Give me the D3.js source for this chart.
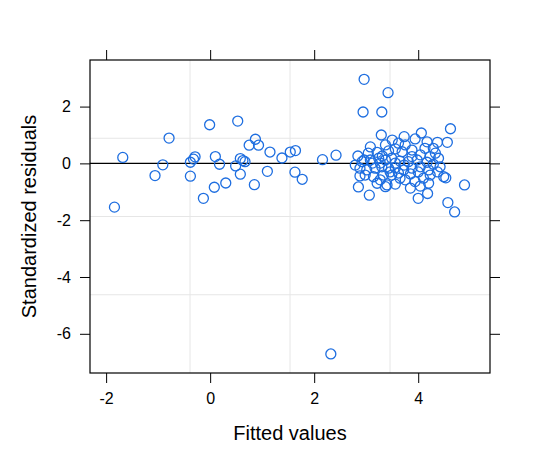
<!DOCTYPE HTML>
<html>
  <head>
    <meta charset="utf-8">
    <style>
	body { margin: 0; background: #ffffff; }
	.axis text { font-family: "Liberation Sans", Arial, sans-serif; font-size: 16px; fill: #000; }
	.axis line { stroke: #000; stroke-width: 1; }
	.axis path { display: none; }
	.axis-title { font-family: "Liberation Sans", Arial, sans-serif; font-size: 20px; fill: #000; }
	</style>
  </head>
  <body>

	<script type="text/javascript" src="https://cdn.jsdelivr.net/npm/d3@7/dist/d3.min.js"></script>

    <script>

		// *** DATA ***

		// fitted values (x)
		var fitted = [
			-1.84,-1.68,-1.06,-0.91,-0.79,-0.38,-0.29,-0.32,-0.38,-0.13,
			-0.01,0.53,0.10,0.18,0.08,0.30,0.49,0.58,0.58,0.63,
			0.67,0.75,0.87,0.93,0.85,1.10,1.15,1.38,1.54,1.64,
			1.63,1.77,2.16,2.42,2.32,
			2.96,3.42,2.94,3.30,3.29,4.62,4.56,4.89,4.57,4.70,
			2.85,3.06,4.00,4.18,4.49,4.53,
			3.73,4.06,3.94,4.17,4.37,3.37,3.62,3.75,4.13,4.29,
			4.33,2.84,3.04,3.21,3.43,3.56,3.69,3.88,4.04,4.23,
			4.39,2.92,3.08,3.24,3.37,3.49,3.65,3.81,3.98,4.17,
			4.29,4.42,2.88,3.01,3.17,3.30,3.43,3.56,3.72,3.88,
			4.04,4.20,2.98,3.14,3.33,3.49,3.65,3.75,3.94,4.10,
			4.20,3.21,3.40,3.37,
			3.12,3.27,3.56,3.73,3.46,3.62,3.85,4.00,3.31,2.96,
			3.88,3.50,3.27,3.56,3.85,2.88,3.08,2.79,4.23,4.37,4.04
		];

		// standardized residuals (y), same order
		var residuals = [
			-1.54,0.21,-0.43,-0.05,0.89,0.04,0.23,0.15,-0.45,-1.23,
			1.36,1.49,0.24,-0.03,-0.84,-0.69,-0.09,-0.38,0.17,0.10,
			0.06,0.64,0.85,0.64,-0.75,-0.28,0.40,0.19,0.40,0.45,
			-0.31,-0.56,0.13,0.29,-6.71,
			2.96,2.49,1.81,1.81,1.00,1.22,0.74,-0.76,-1.38,-1.71,
			-0.83,-1.12,-1.23,-1.06,-0.47,-0.51,
			0.94,1.07,0.86,0.76,0.74,0.65,0.71,0.65,0.53,0.53,
			0.36,0.26,0.36,0.39,0.44,0.51,0.41,0.24,0.30,0.24,
			0.18,0.06,0.12,0.18,0.12,0.18,0.08,0.06,0.12,0.04,
			-0.03,-0.12,-0.17,-0.23,-0.17,-0.12,-0.17,-0.15,-0.23,-0.17,
			-0.12,-0.23,-0.41,-0.47,-0.41,-0.41,-0.52,-0.58,-0.64,-0.52,
			-0.70,-0.70,-0.76,-0.82,
			0.01,0.01,0.01,-0.06,-0.30,-0.34,-0.37,-0.30,0.26,0.12,
			0.47,0.82,-0.58,-0.73,-0.87,-0.44,0.58,-0.06,-0.41,-0.30,-0.80
		];

		var xTicks = [-2, 0, 2, 4];
		var yTicks = [2, 0, -2, -4, -6];
		var xLabel = "Fitted values";
		var yLabel = "Standardized residuals";

		// *** LAYOUT ***

		var W = 540, H = 471;
		var panel = {left: 90, right: 490, top: 60, bottom: 373};
		var tickLen = 10;

		var x = d3.scaleLinear().domain([-2.31, 5.38]).range([panel.left, panel.right]);
		var y = d3.scaleLinear().domain([-7.38, 3.64]).range([panel.bottom, panel.top]);

		// FUNCTION: grid positions splitting a domain into equal parts
		function gridValues(scale, n){
			var d = scale.domain();
			var out = [];
			for(var ii = 1; ii < n; ii++){
				out.push(d[0] + (d[1] - d[0]) * ii / n);
			}
			return out;
		}

		// plain hyphen for negatives, like the original
		function plainNum(d){ return String(d); }

		var svg = d3.select("body").append("svg")
			.attr("width", W)
			.attr("height", H);

		svg.append("rect")
			.attr("width", W)
			.attr("height", H)
			.style("fill", "#ffffff");

		// GRID
		var gGrid = svg.append("g").classed("grid", true);

		gGrid.selectAll("line.v").data(gridValues(x, 4))
		.enter()
		.append("line")
			.classed("v", true)
			.attr("x1", function(d){return x(d)})
			.attr("x2", function(d){return x(d)})
			.attr("y1", panel.top)
			.attr("y2", panel.bottom)
			.style("stroke", "#e6e6e6")
			.style("stroke-width", 1);

		gGrid.selectAll("line.h").data(gridValues(y, 4))
		.enter()
		.append("line")
			.classed("h", true)
			.attr("x1", panel.left)
			.attr("x2", panel.right)
			.attr("y1", function(d){return y(d)})
			.attr("y2", function(d){return y(d)})
			.style("stroke", "#e6e6e6")
			.style("stroke-width", 1);

		// zero reference line
		svg.append("line")
			.attr("x1", panel.left)
			.attr("x2", panel.right)
			.attr("y1", y(0))
			.attr("y2", y(0))
			.style("stroke", "#000")
			.style("stroke-width", 1.2);

		// POINTS
		var pts = fitted.map(function(d, ii){ return {fx: d, r: residuals[ii]}; });

		svg.append("g").selectAll("circle").data(pts)
		.enter()
		.append("circle")
			.attr("cx", function(d){return x(d.fx)})
			.attr("cy", function(d){return y(d.r)})
			.attr("r", 5)
			.style("fill", "none")
			.style("stroke", "#1e6ee0")
			.style("stroke-width", 1.3);

		// AXES (ticks on all four sides, labels bottom and left)
		svg.append("g").classed("axis", true)
			.attr("transform", "translate(0," + panel.bottom + ")")
			.call(d3.axisBottom(x).tickValues(xTicks).tickSize(tickLen).tickPadding(10).tickFormat(plainNum));

		svg.append("g").classed("axis", true)
			.attr("transform", "translate(0," + panel.top + ")")
			.call(d3.axisTop(x).tickValues(xTicks).tickSize(tickLen).tickFormat(""));

		svg.append("g").classed("axis", true)
			.attr("transform", "translate(" + panel.left + ",0)")
			.call(d3.axisLeft(y).tickValues(yTicks).tickSize(tickLen).tickPadding(9).tickFormat(plainNum));

		svg.append("g").classed("axis", true)
			.attr("transform", "translate(" + panel.right + ",0)")
			.call(d3.axisRight(y).tickValues(yTicks).tickSize(tickLen).tickFormat(""));

		// PANEL FRAME
		svg.append("rect")
			.attr("x", panel.left)
			.attr("y", panel.top)
			.attr("width", panel.right - panel.left)
			.attr("height", panel.bottom - panel.top)
			.style("fill", "none")
			.style("stroke", "#000")
			.style("stroke-width", 1.2);

		// AXIS TITLES
		svg.append("text")
			.classed("axis-title", true)
			.attr("x", (panel.left + panel.right) / 2)
			.attr("y", 440)
			.style("text-anchor", "middle")
			.text(xLabel);

		svg.append("text")
			.classed("axis-title", true)
			.attr("transform", "translate(36," + ((panel.top + panel.bottom) / 2) + ") rotate(-90)")
			.style("text-anchor", "middle")
			.text(yLabel);

	</script>
  </body>
</html>
